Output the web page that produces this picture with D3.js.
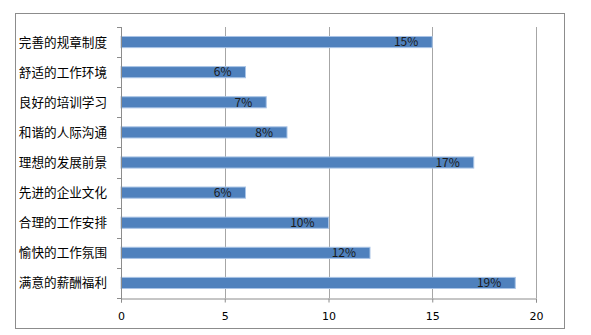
<!DOCTYPE html>
<html>
<head>
<meta charset="utf-8">
<script src="https://cdn.jsdelivr.net/npm/d3@7"></script>
<style>
  body { margin: 0; background: #fff; }
  text { font-family: "Noto Sans CJK SC", "DejaVu Sans", sans-serif; }
</style>
</head>
<body>
<svg id="chart" width="591" height="335"></svg>
<script>
var categories = ["完善的规章制度", "舒适的工作环境", "良好的培训学习", "和谐的人际沟通",
  "理想的发展前景", "先进的企业文化", "合理的工作安排", "愉快的工作氛围", "满意的薪酬福利"];
var values = [15, 6, 7, 8, 17, 6, 10, 12, 19];
var xTicks = [0, 5, 10, 15, 20];

var svg = d3.select("#chart");

// outer chart frame
svg.append("rect")
  .attr("x", 15.5).attr("y", 13.5)
  .attr("width", 549).attr("height", 315)
  .attr("fill", "none").attr("stroke", "#8c8c8c").attr("stroke-width", 1);

var plotL = 121, plotR = 536, plotT = 27, plotB = 298;

var x = d3.scaleLinear().domain([0, 20]).range([plotL, plotR]);
var y = d3.scaleBand().domain(categories).range([plotT, plotB]).paddingInner(0.63).paddingOuter(0.315);

// vertical grid lines
svg.append("g")
  .selectAll("line")
  .data(xTicks.slice(1))
  .join("line")
  .attr("x1", function(d) { return Math.round(x(d)) + 0.5; })
  .attr("x2", function(d) { return Math.round(x(d)) + 0.5; })
  .attr("y1", plotT).attr("y2", plotB)
  .attr("stroke", "#a6a6a6").attr("stroke-width", 1);

// bars
svg.append("g")
  .selectAll("rect")
  .data(values)
  .join("rect")
  .attr("x", x(0))
  .attr("y", function(d, i) { return y(categories[i]); })
  .attr("width", function(d) { return x(d) - x(0); })
  .attr("height", y.bandwidth())
  .attr("fill", "#4f81bd")
  .attr("stroke", "#a9c4e6")
  .attr("stroke-width", 1);

// value labels
svg.append("g")
  .selectAll("text")
  .data(values)
  .join("text")
  .attr("x", function(d) { return x(d) - 14; })
  .attr("y", function(d, i) { return y(categories[i]) + y.bandwidth() / 2; })
  .attr("dy", "0.36em")
  .attr("text-anchor", "end")
  .attr("font-size", 12)
  .attr("fill", "#1a1a1a")
  .text(function(d) { return d + "%"; });

// y axis
var yAxis = svg.append("g");
yAxis.append("line")
  .attr("x1", plotL + 0.5).attr("x2", plotL + 0.5)
  .attr("y1", plotT).attr("y2", plotB + 4)
  .attr("stroke", "#8c8c8c");
var bounds = d3.range(categories.length + 1).map(function(i) { return plotT + i * y.step(); });
yAxis.selectAll("line.tk")
  .data(bounds)
  .join("line")
  .attr("class", "tk")
  .attr("x1", plotL - 4).attr("x2", plotL)
  .attr("y1", function(d) { return Math.round(d) + 0.5; })
  .attr("y2", function(d) { return Math.round(d) + 0.5; })
  .attr("stroke", "#8c8c8c");
yAxis.selectAll("text")
  .data(categories)
  .join("text")
  .attr("x", 107)
  .attr("y", function(d) { return y(d) + y.bandwidth() / 2; })
  .attr("dy", "0.36em")
  .attr("text-anchor", "end")
  .attr("font-size", 12.6)
  .attr("fill", "#000")
  .text(function(d) { return d; });

// x axis
var xAxis = svg.append("g").attr("transform", "translate(0," + (plotB + 0.5) + ")")
  .call(d3.axisBottom(x).tickValues(xTicks).tickSize(4).tickPadding(10));
xAxis.select(".domain").attr("stroke", "#8c8c8c");
xAxis.selectAll(".tick line").attr("stroke", "#8c8c8c");
xAxis.selectAll(".tick text")
  .attr("font-size", 11)
  .attr("fill", "#000")
  .style("font-family", "'DejaVu Sans', sans-serif");
</script>
</body>
</html>
